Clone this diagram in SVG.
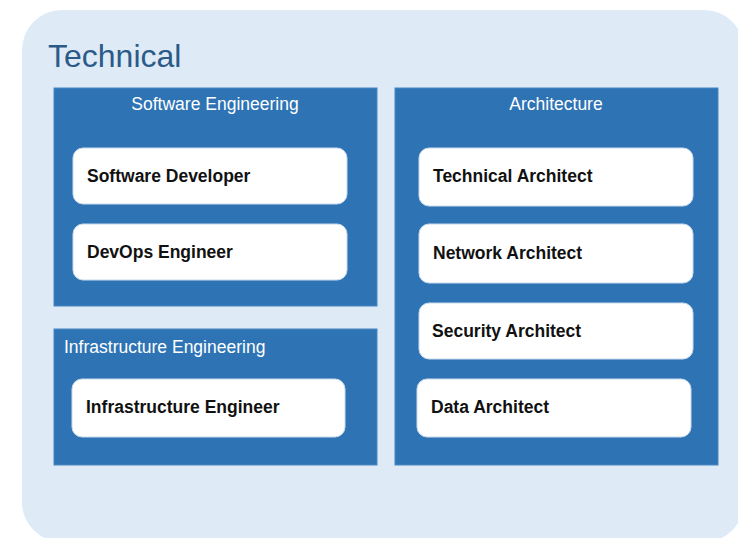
<svg xmlns="http://www.w3.org/2000/svg" width="738" height="538" viewBox="0 0 738 538">
<style>
.bg{fill:#DEEAF6}
.grp{fill:#2E74B5;stroke:#4A86C2;stroke-width:1}
.role{fill:#FFFFFF;stroke:#C9DBEE;stroke-width:1}
.title{font-family:"Liberation Sans",Arial,sans-serif;font-size:32px;fill:#2C5A88}
.hdr{font-family:"Liberation Sans",Arial,sans-serif;font-size:17.5px;fill:#FFFFFF}
.lbl{font-family:"Liberation Sans",Arial,sans-serif;font-size:17.5px;font-weight:bold;fill:#111111}
</style>
<rect width="738" height="538" fill="#FFFFFF"/>
<g id="technical">
<rect class="bg" x="22" y="10" width="722" height="532" rx="40"/>
<text class="title" x="48" y="67">Technical</text>
</g>
<g id="software-engineering">
<rect class="grp" x="54" y="88" width="323" height="218"/>
<text class="hdr" x="215" y="110" text-anchor="middle">Software Engineering</text>
</g>
<g id="software-developer">
<rect class="role" x="73" y="148" width="274" height="56" rx="10"/>
<text class="lbl" x="87" y="182">Software Developer</text>
</g>
<g id="devops-engineer">
<rect class="role" x="73" y="224" width="274" height="56" rx="10"/>
<text class="lbl" x="87" y="258">DevOps Engineer</text>
</g>
<g id="infrastructure-engineering">
<rect class="grp" x="54" y="329" width="323" height="136"/>
<text class="hdr" x="64" y="353">Infrastructure Engineering</text>
</g>
<g id="infrastructure-engineer">
<rect class="role" x="72" y="379" width="273" height="58" rx="10"/>
<text class="lbl" x="86" y="413">Infrastructure Engineer</text>
</g>
<g id="architecture">
<rect class="grp" x="395" y="88" width="323" height="377"/>
<text class="hdr" x="556" y="110" text-anchor="middle">Architecture</text>
</g>
<g id="technical-architect">
<rect class="role" x="419" y="148" width="274" height="58" rx="10"/>
<text class="lbl" x="433" y="182">Technical Architect</text>
</g>
<g id="network-architect">
<rect class="role" x="419" y="224" width="274" height="59" rx="10"/>
<text class="lbl" x="433" y="259">Network Architect</text>
</g>
<g id="security-architect">
<rect class="role" x="419" y="303" width="274" height="56" rx="10"/>
<text class="lbl" x="432" y="337">Security Architect</text>
</g>
<g id="data-architect">
<rect class="role" x="417" y="379" width="274" height="58" rx="10"/>
<text class="lbl" x="431" y="413">Data Architect</text>
</g>
<g id="connectors"></g>
</svg>
